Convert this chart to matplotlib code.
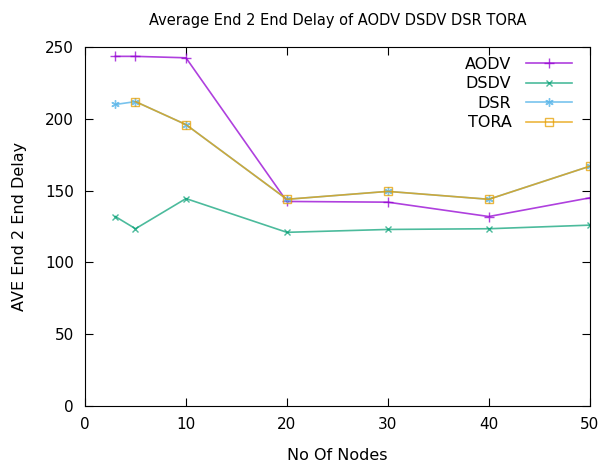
import matplotlib
matplotlib.use('Agg')
import matplotlib.pyplot as plt

# data
nodes = [3, 5, 10, 20, 30, 40, 50]
aodv = [243.5, 243.5, 242.5, 142.5, 142, 132, 145]
dsdv = [132, 123.5, 144.5, 121, 123, 123.5, 126]
dsr = [210, 212, 196, 144, 149.5, 144, 167]
tora_nodes = [5, 10, 20, 30, 40, 50]
tora = [212, 196, 144, 149.5, 144, 167]

plt.rcParams['font.family'] = 'DejaVu Sans'
fig = plt.figure(figsize=(6.03, 4.61), dpi=100)
ax = fig.add_axes([0.141, 0.119, 0.837, 0.779])

ax.plot(nodes, aodv, color='#9400d3', alpha=0.75, lw=1.2, marker='+', ms=7, label='AODV')
ax.plot(nodes, dsdv, color='#009e73', alpha=0.7, lw=1.2, marker='x', ms=5, label='DSDV')
ax.plot(nodes, dsr, color='#56b4e9', alpha=0.8, lw=1.2, marker=(6, 2, 0), ms=6, label='DSR')
ax.plot(tora_nodes, tora, color='#e69f00', alpha=0.75, lw=1.2, marker='s', ms=6, mfc='none', label='TORA')

ax.set_xlim(0, 50)
ax.set_ylim(0, 250)
ax.set_xticks(range(0, 51, 10))
ax.set_yticks(range(0, 251, 50))
ax.tick_params(direction='in', top=True, right=True, labelsize=11, length=6, pad=8)
ax.set_xlabel('No Of Nodes', fontsize=11.5, labelpad=11)
ax.set_ylabel('AVE End 2 End Delay', fontsize=11.5, labelpad=13)
ax.set_title('Average End 2 End Delay of AODV DSDV DSR TORA', fontsize=10.5, pad=16)

ax.legend(loc='upper right', bbox_to_anchor=(0.981, 0.995), frameon=False,
          markerfirst=False, fontsize=11.5, handlelength=2.9, handletextpad=0.9,
          labelspacing=0.28, borderaxespad=0.3, borderpad=0.2)

fig.savefig('out.png', dpi=100)
